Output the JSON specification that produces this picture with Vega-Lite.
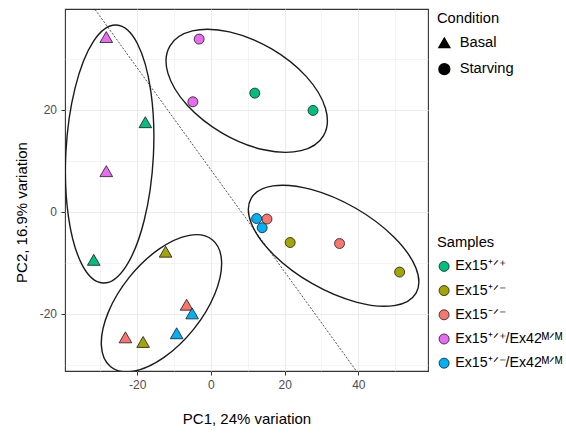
{
  "$schema": "https://vega.github.io/schema/vega-lite/v6.json",
  "width": 363,
  "height": 362,
  "autosize": {"type": "none"},
  "padding": {"left": 65, "top": 9, "right": 138, "bottom": 63},
  "background": "white",
  "config": {
    "font": "Liberation Sans",
    "view": {"stroke": "#333333", "strokeWidth": 1.1},
    "axis": {
      "domain": false,
      "gridColor": "#EBEBEB",
      "tickColor": "#333333",
      "tickSize": 4,
      "tickWidth": 1,
      "labelColor": "#4D4D4D",
      "labelFontSize": 12,
      "labelPadding": 4.5,
      "labelOverlap": false,
      "labelFlush": false,
      "titleFontSize": 15,
      "titleFontWeight": "normal",
      "titleColor": "#000000"
    },
    "legend": {
      "titleFontSize": 14.7,
      "titleFontWeight": "normal",
      "titleColor": "#000000",
      "labelFontSize": 14.7,
      "labelColor": "#000000",
      "padding": 0
    }
  },
  "datasets": {
    "cut": [
      {"pc1": -32, "pc2": 40.25},
      {"pc1": 40, "pc2": -31.75}
    ],
    "ellipses": [
      {"group": "A", "i": 0, "pc1": -25.66, "pc2": 36.65},
      {"group": "A", "i": 1, "pc1": -19.97, "pc2": 33.03},
      {"group": "A", "i": 2, "pc1": -16.30, "pc2": 23.61},
      {"group": "A", "i": 3, "pc1": -15.62, "pc2": 10.91},
      {"group": "A", "i": 4, "pc1": -18.12, "pc2": -1.69},
      {"group": "A", "i": 5, "pc1": -23.13, "pc2": -10.77},
      {"group": "A", "i": 6, "pc1": -29.31, "pc2": -13.94},
      {"group": "A", "i": 7, "pc1": -34.99, "pc2": -10.33},
      {"group": "A", "i": 8, "pc1": -38.67, "pc2": -0.91},
      {"group": "A", "i": 9, "pc1": -39.35, "pc2": 11.80},
      {"group": "A", "i": 10, "pc1": -36.84, "pc2": 24.38},
      {"group": "A", "i": 11, "pc1": -31.84, "pc2": 33.48},
      {"group": "B", "i": 0, "pc1": 30.56, "pc2": 14.97},
      {"group": "B", "i": 1, "pc1": 24.44, "pc2": 12.01},
      {"group": "B", "i": 2, "pc1": 14.37, "pc2": 12.19},
      {"group": "B", "i": 3, "pc1": 3.05, "pc2": 15.47},
      {"group": "B", "i": 4, "pc1": -6.49, "pc2": 20.97},
      {"group": "B", "i": 5, "pc1": -11.68, "pc2": 27.22},
      {"group": "B", "i": 6, "pc1": -11.15, "pc2": 32.53},
      {"group": "B", "i": 7, "pc1": -5.02, "pc2": 35.50},
      {"group": "B", "i": 8, "pc1": 5.04, "pc2": 35.31},
      {"group": "B", "i": 9, "pc1": 16.36, "pc2": 32.03},
      {"group": "B", "i": 10, "pc1": 25.90, "pc2": 26.54},
      {"group": "B", "i": 11, "pc1": 31.09, "pc2": 20.29},
      {"group": "C", "i": 0, "pc1": 55.66, "pc2": -15.91},
      {"group": "C", "i": 1, "pc1": 49.72, "pc2": -18.37},
      {"group": "C", "i": 2, "pc1": 39.39, "pc2": -17.68},
      {"group": "C", "i": 3, "pc1": 27.41, "pc2": -14.03},
      {"group": "C", "i": 4, "pc1": 17.02, "pc2": -8.39},
      {"group": "C", "i": 5, "pc1": 10.98, "pc2": -2.29},
      {"group": "C", "i": 6, "pc1": 10.91, "pc2": 2.66},
      {"group": "C", "i": 7, "pc1": 16.85, "pc2": 5.11},
      {"group": "C", "i": 8, "pc1": 27.19, "pc2": 4.42},
      {"group": "C", "i": 9, "pc1": 39.17, "pc2": 0.77},
      {"group": "C", "i": 10, "pc1": 49.57, "pc2": -4.86},
      {"group": "C", "i": 11, "pc1": 55.60, "pc2": -10.96},
      {"group": "D", "i": 0, "pc1": 0.36, "pc2": -5.46},
      {"group": "D", "i": 1, "pc1": 2.89, "pc2": -9.67},
      {"group": "D", "i": 2, "pc1": 1.05, "pc2": -16.08},
      {"group": "D", "i": 3, "pc1": -4.67, "pc2": -22.99},
      {"group": "D", "i": 4, "pc1": -12.73, "pc2": -28.53},
      {"group": "D", "i": 5, "pc1": -20.98, "pc2": -31.24},
      {"group": "D", "i": 6, "pc1": -27.21, "pc2": -30.37},
      {"group": "D", "i": 7, "pc1": -29.73, "pc2": -26.17},
      {"group": "D", "i": 8, "pc1": -27.90, "pc2": -19.75},
      {"group": "D", "i": 9, "pc1": -22.18, "pc2": -12.84},
      {"group": "D", "i": 10, "pc1": -14.11, "pc2": -7.30},
      {"group": "D", "i": 11, "pc1": -5.86, "pc2": -4.59}
    ],
    "points": [
      {"pc1": -28.4, "pc2": 34.3, "condition": "Basal", "sample": "Ex15⁺ᐟ⁺/Ex42ᴹᐟᴹ"},
      {"pc1": -17.8, "pc2": 17.6, "condition": "Basal", "sample": "Ex15⁺ᐟ⁺"},
      {"pc1": -28.4, "pc2": 8.0, "condition": "Basal", "sample": "Ex15⁺ᐟ⁺/Ex42ᴹᐟᴹ"},
      {"pc1": -31.8, "pc2": -9.4, "condition": "Basal", "sample": "Ex15⁺ᐟ⁺"},
      {"pc1": -12.3, "pc2": -7.8, "condition": "Basal", "sample": "Ex15⁺ᐟ⁻"},
      {"pc1": -6.6, "pc2": -18.2, "condition": "Basal", "sample": "Ex15⁻ᐟ⁻"},
      {"pc1": -5.1, "pc2": -19.9, "condition": "Basal", "sample": "Ex15⁺ᐟ⁻/Ex42ᴹᐟᴹ"},
      {"pc1": -9.3, "pc2": -23.8, "condition": "Basal", "sample": "Ex15⁺ᐟ⁻/Ex42ᴹᐟᴹ"},
      {"pc1": -23.2, "pc2": -24.6, "condition": "Basal", "sample": "Ex15⁻ᐟ⁻"},
      {"pc1": -18.4, "pc2": -25.5, "condition": "Basal", "sample": "Ex15⁺ᐟ⁻"},
      {"pc1": -3.2, "pc2": 33.9, "condition": "Starving", "sample": "Ex15⁺ᐟ⁺/Ex42ᴹᐟᴹ"},
      {"pc1": -4.9, "pc2": 21.6, "condition": "Starving", "sample": "Ex15⁺ᐟ⁺/Ex42ᴹᐟᴹ"},
      {"pc1": 11.9, "pc2": 23.3, "condition": "Starving", "sample": "Ex15⁺ᐟ⁺"},
      {"pc1": 27.7, "pc2": 19.9, "condition": "Starving", "sample": "Ex15⁺ᐟ⁺"},
      {"pc1": 15.2, "pc2": -1.4, "condition": "Starving", "sample": "Ex15⁻ᐟ⁻"},
      {"pc1": 12.4, "pc2": -1.3, "condition": "Starving", "sample": "Ex15⁺ᐟ⁻/Ex42ᴹᐟᴹ"},
      {"pc1": 13.9, "pc2": -3.1, "condition": "Starving", "sample": "Ex15⁺ᐟ⁻/Ex42ᴹᐟᴹ"},
      {"pc1": 21.5, "pc2": -6.0, "condition": "Starving", "sample": "Ex15⁺ᐟ⁻"},
      {"pc1": 34.9, "pc2": -6.2, "condition": "Starving", "sample": "Ex15⁻ᐟ⁻"},
      {"pc1": 51.2, "pc2": -11.8, "condition": "Starving", "sample": "Ex15⁺ᐟ⁻"}
    ]
  },
  "encoding": {
    "x": {
      "field": "pc1",
      "type": "quantitative",
      "scale": {"domain": [-39.6, 58.9], "nice": false, "zero": false},
      "axis": {
        "title": "PC1, 24% variation",
        "values": [-30, -20, -10, 0, 10, 20, 30, 40, 50],
        "labelExpr": "datum.value % 20 === 0 ? '' + datum.value : ''",
        "tickOpacity": {"condition": {"test": "datum.value % 20 === 0", "value": 1}, "value": 0},
        "gridWidth": {"condition": {"test": "datum.value % 20 === 0", "value": 1.1}, "value": 0.55},
        "titleY": 52,
        "titleBaseline": "alphabetic"
      }
    },
    "y": {
      "field": "pc2",
      "type": "quantitative",
      "scale": {"domain": [-31.2, 39.8], "nice": false, "zero": false},
      "axis": {
        "title": "PC2, 16.9% variation",
        "values": [-30, -20, -10, 0, 10, 20, 30],
        "labelExpr": "datum.value % 20 === 0 ? '' + datum.value : ''",
        "tickOpacity": {"condition": {"test": "datum.value % 20 === 0", "value": 1}, "value": 0},
        "gridWidth": {"condition": {"test": "datum.value % 20 === 0", "value": 1.1}, "value": 0.55},
        "titleX": -39,
        "titleY": 203,
        "titleAngle": 270,
        "titleAlign": "center",
        "titleBaseline": "alphabetic"
      }
    }
  },
  "layer": [
    {
      "data": {"name": "cut"},
      "mark": {"type": "line", "stroke": "#222222", "strokeWidth": 0.8, "strokeDash": [2, 1.6], "clip": true},
      "encoding": {}
    },
    {
      "data": {"name": "ellipses"},
      "mark": {"type": "line", "interpolate": "cardinal-closed", "stroke": "#1a1a1a", "strokeWidth": 1.4, "clip": true},
      "encoding": {
        "detail": {"field": "group", "type": "nominal"},
        "order": {"field": "i", "type": "quantitative"}
      }
    },
    {
      "data": {"name": "points"},
      "transform": [{"filter": "datum.condition === 'Basal'"}],
      "mark": {"type": "point", "filled": true, "stroke": "#1a1a1a", "strokeWidth": 0.8, "opacity": 1, "size": 160},
      "encoding": {
        "shape": {
          "field": "condition",
          "type": "nominal",
          "scale": {"domain": ["Basal", "Starving"], "range": ["triangle-up", "circle"]},
          "legend": {
            "title": "Condition",
            "orient": "none",
            "legendX": 372,
            "legendY": 2,
            "symbolSize": 115,
            "symbolFillColor": "black",
            "symbolStrokeColor": "black",
            "labelOffset": 8,
            "rowPadding": 9.3,
            "titlePadding": 9.8,
            "encode": {"symbols": {"update": {"fill": {"value": "black"}, "stroke": {"value": "black"}}}}
          }
        },
        "fill": {
          "field": "sample",
          "type": "nominal",
          "scale": {
            "domain": ["Ex15⁺ᐟ⁺", "Ex15⁺ᐟ⁻", "Ex15⁻ᐟ⁻", "Ex15⁺ᐟ⁺/Ex42ᴹᐟᴹ", "Ex15⁺ᐟ⁻/Ex42ᴹᐟᴹ"],
            "range": ["#00BF7D", "#A3A500", "#F8766D", "#E76BF3", "#00B0F6"]
          },
          "legend": {
            "title": "Samples",
            "orient": "none",
            "legendX": 372,
            "legendY": 226,
            "symbolType": "circle",
            "symbolSize": 100,
            "symbolStrokeColor": "#1a1a1a",
            "symbolStrokeWidth": 0.8,
            "labelFontSize": 14.2,
            "labelOffset": 4,
            "rowPadding": 9.2,
            "titlePadding": 9.6
          }
        }
      }
    },
    {
      "data": {"name": "points"},
      "transform": [{"filter": "datum.condition === 'Starving'"}],
      "mark": {"type": "point", "filled": true, "stroke": "#1a1a1a", "strokeWidth": 0.8, "opacity": 1, "size": 100},
      "encoding": {
        "shape": {"field": "condition", "type": "nominal"},
        "fill": {"field": "sample", "type": "nominal"}
      }
    }
  ]
}
